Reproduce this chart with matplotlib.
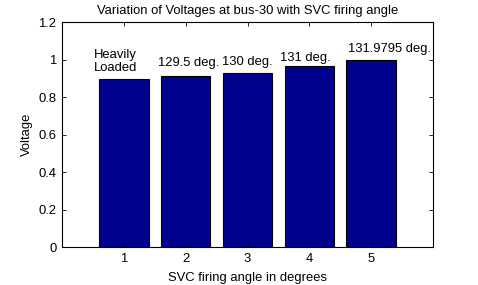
import numpy as np
import matplotlib
matplotlib.use('Agg')
import matplotlib.pyplot as plt

# Bar data
positions = [1, 2, 3, 4, 5]
voltages = [0.895, 0.910, 0.928, 0.964, 0.999]

# Annotation labels and where they sit (data units)
labels = ['Heavily\nLoaded', '129.5 deg.', '130 deg.', '131 deg.', '131.9795 deg.']
label_x = [0.52, 1.55, 2.59, 3.53, 4.62]
label_y = [0.99, 0.98, 0.987, 1.01, 1.056]

yticks = [0, 0.2, 0.4, 0.6, 0.8, 1.0, 1.2]
ytick_labels = ['0', '0.2', '0.4', '0.6', '0.8', '1', '1.2']

plt.rcParams['font.family'] = ['Liberation Sans', 'DejaVu Sans']
fs = 9.4

fig = plt.figure(figsize=(4.78, 2.85), dpi=100)
ax = fig.add_axes([0.1297, 0.1333, 0.7762, 0.7895])

ax.bar(positions, voltages, width=0.8, color='#00008F', edgecolor='black', linewidth=0.8)

for x, y, s in zip(label_x, label_y, labels):
    ax.text(x, y, s, ha='left', va='center', fontsize=fs, linespacing=1.1)

ax.set_xlim(0, 6)
ax.set_ylim(0, 1.2)
ax.set_xticks(positions)
ax.set_yticks(yticks)
ax.set_yticklabels(ytick_labels)
ax.tick_params(direction='in', top=True, right=True, labelsize=fs, length=3, width=0.6, pad=4)
for sp in ax.spines.values():
    sp.set_linewidth(0.8)

ax.set_title('Variation of Voltages at bus-30 with SVC firing angle', fontsize=fs, pad=6)
ax.set_xlabel('SVC firing angle in degrees', fontsize=fs, labelpad=5)
ax.set_ylabel('Voltage', fontsize=fs, labelpad=4)

fig.savefig('out.png', dpi=100)
